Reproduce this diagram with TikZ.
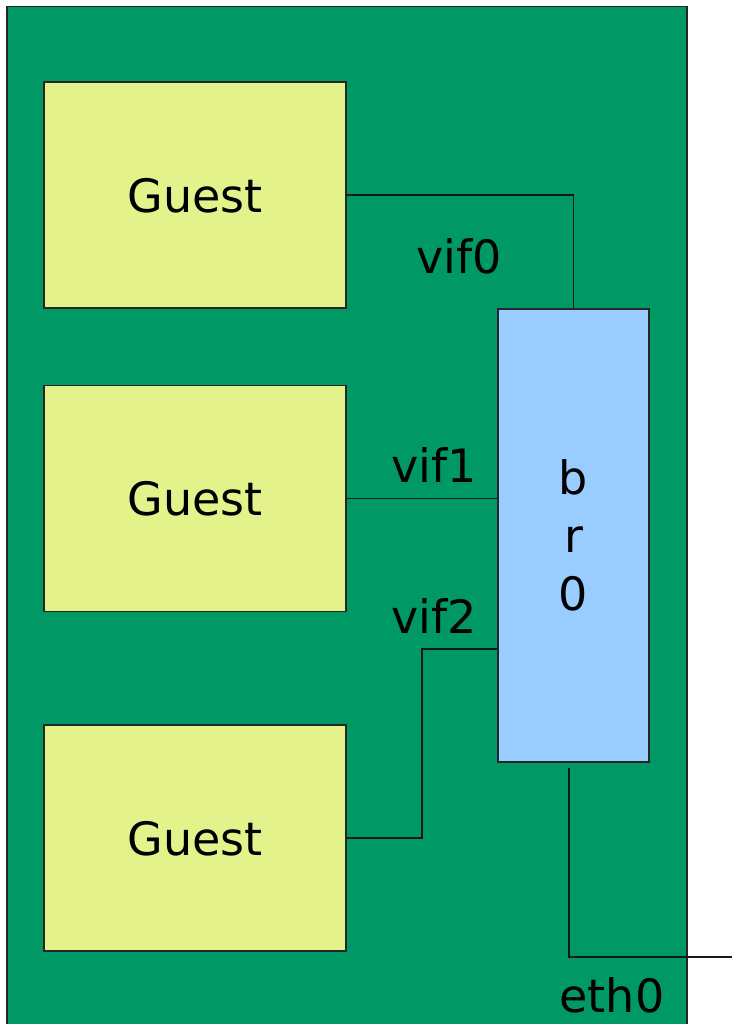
\documentclass[tikz,border=0pt]{standalone}
\usepackage{fontspec}
\setmainfont{DejaVu Sans}
\usetikzlibrary{positioning}
\definecolor{hostgreen}{RGB}{0,153,102}
\definecolor{guestyellow}{RGB}{228,242,140}
\definecolor{bridgeblue}{RGB}{153,204,255}

\begin{document}
\begin{tikzpicture}[
    x=1pt, y=-1pt,
    box/.style={rectangle, draw=black!85, line width=1.5pt, inner sep=0pt, font=\fontsize{46}{55}\selectfont},
    guestbox/.style={box, fill=guestyellow, minimum width=302pt, minimum height=226pt, text depth=0pt, yshift=0pt},
    bridgebox/.style={box, fill=bridgeblue, minimum width=151pt, minimum height=453pt, align=center, font=\fontsize{46}{58}\selectfont},
    link/.style={draw=black!90, line width=1.3pt},
    iflabel/.style={inner sep=0pt, font=\fontsize{46}{55}\selectfont},
    node distance=76pt and 0pt
]
    \useasboundingbox (0,0) rectangle (732,1024);
    \clip (0,0) rectangle (732,1024);

    % Host
    \node[box, fill=hostgreen, minimum width=680pt, minimum height=1040pt, anchor=north west] (host) at (6,6) {};

    % Guests
    \node[guestbox] (guest1) at (195,195) {Guest};
    \node[guestbox, below=76pt of guest1] (guest2) {Guest};
    \node[guestbox, below=112pt of guest2] (guest3) {Guest};

    % Bridge
    \node[bridgebox] (br0) at (573.5,535.5) {b\\r\\0};

    % Ports
    \coordinate (turn2) at (422,649);
    \coordinate (ethtop) at (569,768);
    \coordinate (ethout) at (732,957);

    % Links
    \draw[link] (guest1.east) -| (br0.north);
    \draw[link] (guest2.east) -- (guest2.east -| br0.west);
    \draw[link] (guest3.east) -| (turn2) -- (turn2 -| br0.west);
    \draw[link] (ethtop) |- (ethout);

    % Interface names
    \node[iflabel] (vif0) at (459,256) {vif0};
    \node[iflabel] (vif1) at (434,465) {vif1};
    \node[iflabel] (vif2) at (434,616) {vif2};
    \node[iflabel] (eth0) at (612,995) {eth0};
\end{tikzpicture}
\end{document}
